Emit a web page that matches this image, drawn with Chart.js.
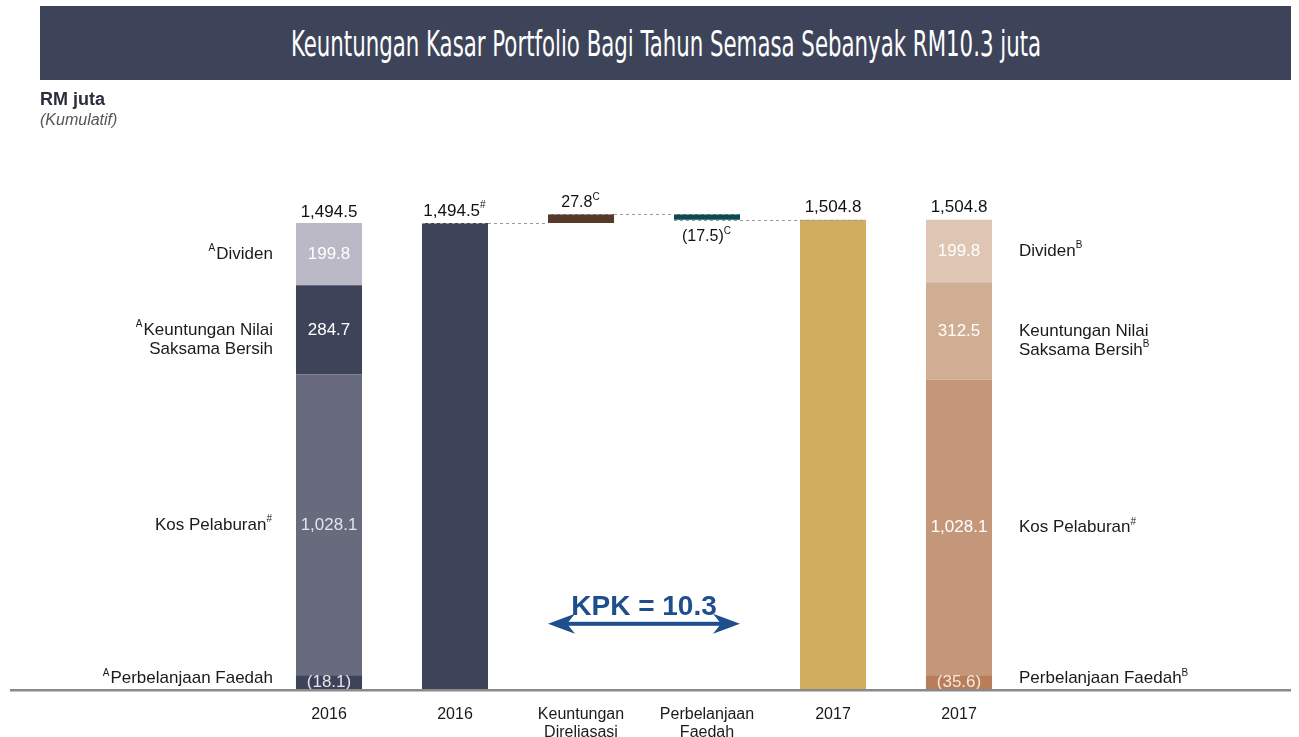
<!DOCTYPE html>
<html>
<head>
<meta charset="utf-8">
<script src="https://cdn.jsdelivr.net/npm/chart.js@4.4.1/dist/chart.umd.min.js"></script>
<style>
  html, body { margin: 0; padding: 0; background: #fff; overflow: hidden; }
  #wrap { position: relative; width: 1299px; height: 737px; overflow: hidden; }
  #chart { position: absolute; left: 0; top: 0; }
  .titlebar { position: absolute; left: 40px; top: 6px; width: 1251px; height: 74px; background: #3d4459; overflow: hidden; }
  .titlebar span { position: absolute; left: 50%; top: 50%; white-space: nowrap; color: #fff;
    font-family: 'Liberation Sans Narrow', 'DejaVu Sans Condensed', 'Liberation Sans', sans-serif; font-size: 36px; }
  .unit { position: absolute; left: 40px; top: 89px; font: bold 18px 'Liberation Sans', Arial, sans-serif; color: #2a2d3b; }
  .note { position: absolute; left: 40px; top: 111px; font: italic 16px 'Liberation Sans', Arial, sans-serif; color: #555; }
</style>
</head>
<body>
<div id="wrap">
  <canvas id="chart" width="1299" height="760"></canvas>
  <div class="titlebar"><span id="title">Keuntungan Kasar Portfolio Bagi Tahun Semasa Sebanyak RM10.3 juta</span></div>
  <div class="unit">RM juta</div>
  <div class="note">(Kumulatif)</div>
</div>
<script>
// squeeze the title to the width of the condensed face in the original
let title = document.getElementById('title');
let sx = 750 / title.offsetWidth;
title.style.transform = 'translate(-50%, -50%) scaleX(' + sx + ')';

const FONT = "'Liberation Sans', Arial, sans-serif";

// categories on the x axis
const categories = [['2016'], ['2016'], ['Keuntungan', 'Direliasasi'], ['Perbelanjaan', 'Faedah'], ['2017'], ['2017']];

// components of the 2016 (first bar) and 2017 (last bar) totals
const componentBars = [0, 5];
const kosPelaburan = [1028.1, 1028.1];
const keuntunganNilai = [284.7, 312.5];
const dividen = [199.8, 199.8];
const perbelanjaanFaedah = [-18.1, -35.6];

// the bridge
const opening2016 = 1494.5;
const keuntunganDireliasasi = 27.8;
const faedahSemasa = -17.5;
const closing2017 = 1504.8;

// colours, [2016, 2017]
const faedahColors = ['#3d4459', '#b97e59'];
const kosColors = ['#686a7e', '#c4977a'];
const keuColors = ['#3d4459', '#cfae94'];
const divColors = ['#bbb9c5', '#dfc5b3'];
const flowColors = [null, '#3d4459', '#573a29', '#0b4a52', '#d1ad5f', null];

function compSeries(fn) {
  let out = Array(categories.length).fill(null);
  componentBars.forEach((ci, k) => { out[ci] = fn(k); });
  return out;
}
const kosEnd = k => kosPelaburan[k] + perbelanjaanFaedah[k];
const keuEnd = k => kosEnd(k) + keuntunganNilai[k];
const divEnd = k => keuEnd(k) + dividen[k];
const peak = opening2016 + keuntunganDireliasasi;

function fmt(v) {
  let s = Math.abs(v).toLocaleString('en-US', { minimumFractionDigits: 1, maximumFractionDigits: 1 });
  return v < 0 ? '(' + s + ')' : s;
}

// draw text made of normal and superscript parts
function drawRich(ctx, parts, x, y, align, size, color) {
  let supSize = Math.round(size * 0.6);
  let w = 0;
  parts.forEach(p => {
    ctx.font = (p.sup ? supSize : size) + 'px ' + FONT;
    p.w = ctx.measureText(p.t).width + (p.sup ? 1 : 0);
    w += p.w;
  });
  let cx = align === 'right' ? x - w : align === 'center' ? x - w / 2 : x;
  ctx.fillStyle = color;
  ctx.textAlign = 'left';
  ctx.textBaseline = 'middle';
  parts.forEach(p => {
    ctx.font = (p.sup ? supSize : size) + 'px ' + FONT;
    ctx.fillText(p.t, cx, p.sup ? y - size * 0.32 : y);
    cx += p.w;
  });
}

const sideLabelsLeft = [
  [[{ t: 'A', sup: true }, { t: 'Dividen' }]],
  [[{ t: 'A', sup: true }, { t: 'Keuntungan Nilai' }], [{ t: 'Saksama Bersih' }]],
  [[{ t: 'Kos Pelaburan' }, { t: '#', sup: true }]],
  [[{ t: 'A', sup: true }, { t: 'Perbelanjaan Faedah' }]]
];
const sideLabelsRight = [
  [[{ t: 'Dividen' }, { t: 'B', sup: true }]],
  [[{ t: 'Keuntungan Nilai' }], [{ t: 'Saksama Bersih' }, { t: 'B', sup: true }]],
  [[{ t: 'Kos Pelaburan' }, { t: '#', sup: true }]],
  [[{ t: 'Perbelanjaan Faedah' }, { t: 'B', sup: true }]]
];

const annotate = {
  id: 'annotate',
  afterDatasetsDraw(chart) {
    const ctx = chart.ctx;
    const area = chart.chartArea;
    const y = chart.scales.y;
    const flow = chart.getDatasetMeta(4).data;
    const faedahEls = chart.getDatasetMeta(0).data;
    ctx.save();
    // dashed connectors of the bridge
    ctx.strokeStyle = '#9a9a9a';
    ctx.lineWidth = 1;
    ctx.setLineDash([3, 3]);
    let seg = (x1, x2, v) => {
      ctx.beginPath();
      ctx.moveTo(x1, Math.round(y.getPixelForValue(v)) + 0.5);
      ctx.lineTo(x2, Math.round(y.getPixelForValue(v)) + 0.5);
      ctx.stroke();
    };
    seg(flow[1].x - flow[1].width / 2, flow[2].x - flow[2].width / 2, opening2016);
    seg(flow[2].x - flow[2].width / 2, flow[3].x + flow[3].width / 2, peak);
    seg(flow[3].x - flow[3].width / 2, flow[4].x + flow[4].width / 2, closing2017);
    ctx.setLineDash([]);

    // labels inside the component bars
    const segs = [
      { ds: 3, vals: dividen, colors: ['#ffffff', '#ffffff'] },
      { ds: 2, vals: keuntunganNilai, colors: ['#ffffff', '#ffffff'] },
      { ds: 1, vals: kosPelaburan, colors: ['#e4e4ea', '#ffffff'] },
      { ds: 0, vals: perbelanjaanFaedah, colors: ['#e4e4ea', '#f4e8e0'] }
    ];
    segs.forEach((s, row) => {
      const els = chart.getDatasetMeta(s.ds).data;
      componentBars.forEach((ci, k) => {
        const el = els[ci];
        // the interest block covers the foot of the cost block
        const bottom = s.ds === 1 ? faedahEls[ci].y : el.base;
        const cy = (el.y + bottom) / 2;
        drawRich(ctx, [{ t: fmt(s.vals[k]) }], el.x, cy, 'center', 17, s.colors[k]);
        // side captions
        const lines = k === 0 ? sideLabelsLeft[row] : sideLabelsRight[row];
        const lx = k === 0 ? el.x - el.width / 2 - 23 : el.x + el.width / 2 + 27;
        lines.forEach((ln, li) => {
          drawRich(ctx, ln, lx, cy + (row === 3 ? -4 : 0) + li * 19, k === 0 ? 'right' : 'left', 17, '#1a1a1a');
        });
      });
    });

    // totals above the bars
    const first = chart.getDatasetMeta(3).data[0];
    const last = chart.getDatasetMeta(3).data[5];
    drawRich(ctx, [{ t: fmt(divEnd(0)) }], first.x, first.y - 11, 'center', 17, '#111');
    drawRich(ctx, [{ t: fmt(divEnd(1)) }], last.x, Math.min(last.y, flow[4].y) - 12, 'center', 17, '#111');
    drawRich(ctx, [{ t: fmt(opening2016) }, { t: '#', sup: true }], flow[1].x, flow[1].y - 12, 'center', 17, '#111');
    drawRich(ctx, [{ t: fmt(keuntunganDireliasasi) }, { t: 'C', sup: true }], flow[2].x, flow[2].y - 12, 'center', 16, '#111');
    drawRich(ctx, [{ t: fmt(faedahSemasa) }, { t: 'C', sup: true }], flow[3].x, flow[3].base + 17, 'center', 16, '#111');
    drawRich(ctx, [{ t: fmt(closing2017) }], flow[4].x, flow[4].y - 12, 'center', 17, '#111');

    // base line
    ctx.strokeStyle = '#8a8a8a';
    ctx.lineWidth = 2.5;
    ctx.beginPath();
    ctx.moveTo(10, area.bottom + 0.5);
    ctx.lineTo(1291, area.bottom + 0.5);
    ctx.stroke();

    // KPK double arrow
    const ax1 = flow[2].x - flow[2].width / 2;
    const ax2 = flow[3].x + flow[3].width / 2;
    const ay = area.bottom - 66;
    ctx.fillStyle = '#1f4e8c';
    ctx.fillRect(ax1 + 16, ay - 2, ax2 - ax1 - 32, 4);
    [[ax1, 1], [ax2, -1]].forEach(([tx, d]) => {
      ctx.beginPath();
      ctx.moveTo(tx, ay);
      ctx.lineTo(tx + d * 27, ay - 10);
      ctx.lineTo(tx + d * 19, ay);
      ctx.lineTo(tx + d * 27, ay + 10);
      ctx.closePath();
      ctx.fill();
    });
    ctx.font = 'bold 28px ' + FONT;
    ctx.textAlign = 'center';
    ctx.textBaseline = 'middle';
    ctx.fillText('KPK = 10.3', (flow[2].x + flow[3].x) / 2, ay - 17);
    ctx.restore();
  }
};

new Chart(document.getElementById('chart'), {
  type: 'bar',
  data: {
    labels: categories,
    datasets: [
      { label: 'Perbelanjaan Faedah', data: compSeries(k => [0, Math.abs(perbelanjaanFaedah[k])]),
        backgroundColor: compSeries(k => faedahColors[k]), minBarLength: 14 },
      { label: 'Kos Pelaburan', data: compSeries(k => [0, kosEnd(k)]), backgroundColor: compSeries(k => kosColors[k]) },
      { label: 'Keuntungan Nilai Saksama Bersih', data: compSeries(k => [kosEnd(k), keuEnd(k)]), backgroundColor: compSeries(k => keuColors[k]) },
      { label: 'Dividen', data: compSeries(k => [keuEnd(k), divEnd(k)]), backgroundColor: compSeries(k => divColors[k]) },
      { label: 'Jambatan', data: [null, [0, opening2016], [opening2016, peak], [peak + faedahSemasa, peak], [0, closing2017], null],
        backgroundColor: flowColors }
    ]
  },
  options: {
    responsive: false,
    devicePixelRatio: 1,
    animation: false,
    datasets: { bar: { grouped: false, barPercentage: 0.524, categoryPercentage: 1, borderWidth: 0 } },
    layout: { padding: { left: 266, right: 277, top: 190, bottom: 11 } },
    plugins: { legend: { display: false }, tooltip: { enabled: false } },
    scales: {
      x: {
        grid: { display: false },
        border: { display: false },
        ticks: { color: '#1a1a1a', font: { family: FONT, size: 16, lineHeight: 1.1 }, padding: 8, maxRotation: 0, autoSkip: false }
      },
      y: { display: false, min: 0, max: 1600 }
    }
  },
  plugins: [annotate]
});
</script>
</body>
</html>
